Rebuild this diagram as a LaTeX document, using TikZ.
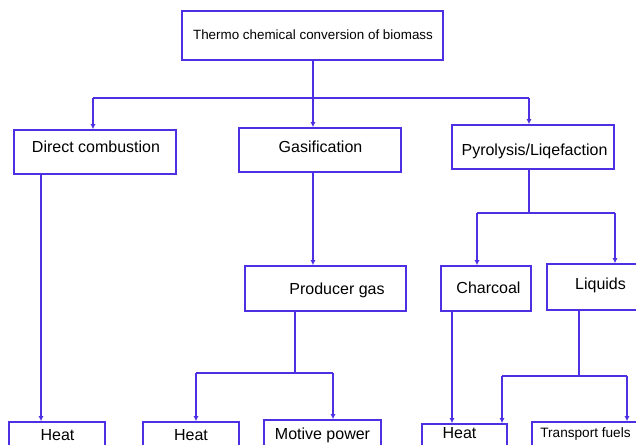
\documentclass[tikz,border=0pt]{standalone}
\usepackage{fontspec}
\setmainfont{Liberation Sans}
\usetikzlibrary{arrows.meta}
\definecolor{flow}{RGB}{78,48,228}
\begin{document}
\begin{tikzpicture}[x=1pt,y=-1pt,
  box/.style={draw=flow,line width=1.6pt,rectangle,inner sep=0pt},
  lbl/.style={font=\fontsize{16}{18}\selectfont,inner sep=0pt,anchor=center},
  conn/.style={draw=flow,line width=1.4pt},
  arr/.style={conn,-{Latex[length=5pt,width=5pt]}}]
\useasboundingbox (0,0) rectangle (636,444);
\clip (0,0) rectangle (636,444);
\fill[white] (0,0) rectangle (636,444);
% boxes
\node[box,minimum width=261pt,minimum height=49pt] (top) at (312.5,35.5) {};
\node[box,minimum width=162pt,minimum height=44pt] (dc) at (95,152) {};
\node[box,minimum width=162pt,minimum height=44pt] (gas) at (320,150) {};
\node[box,minimum width=162pt,minimum height=44pt] (pyr) at (533,147) {};
\node[box,minimum width=161pt,minimum height=45pt] (pg) at (325.5,288.5) {};
\node[box,minimum width=90pt,minimum height=45pt] (char) at (486,288.5) {};
\node[box,minimum width=133pt,minimum height=46pt] (liq) at (613.5,287) {};
\node[box,minimum width=96pt,minimum height=48pt] (h1) at (57,446) {};
\node[box,minimum width=96pt,minimum height=48pt] (h2) at (191,446) {};
\node[box,minimum width=117pt,minimum height=50pt] (mp) at (322.5,445) {};
\node[box,minimum width=85pt,minimum height=48pt] (h3) at (464.5,448) {};
\node[box,minimum width=148pt,minimum height=48pt] (tf) at (606,446) {};
% texts
\node[lbl,font=\fontsize{13.4}{15}\selectfont] (ttop) at (313,35) {Thermo chemical conversion of biomass};
\node[lbl] (tdc) at (96,147) {Direct combustion};
\node[lbl] (tgas) at (320.5,147) {Gasification};
\node[lbl] (tpyr) at (534.5,151) {Pyrolysis/Liqefaction};
\node[lbl] (tpg) at (337,290) {Producer gas};
\node[lbl] (tchar) at (488.5,288) {Charcoal};
\node[lbl] (tliq) at (600.5,285) {Liquids};
\node[lbl] (th1) at (57.5,435.5) {Heat};
\node[lbl] (th2) at (191,435.5) {Heat};
\node[lbl] (tmp) at (322.5,435.5) {Motive power};
\node[lbl] (th3) at (459.5,433.5) {Heat};
\node[lbl,font=\fontsize{13.6}{15}\selectfont] (ttf) at (585.5,433.5) {Transport fuels};
% junction coordinates
\coordinate (j1) at (313,98);
\coordinate (j1l) at (93,98);
\coordinate (j1r) at (529,98);
\coordinate (s1) at (41,0);
\coordinate (s2) at (313,0);
\coordinate (j3) at (295,373);
\coordinate (j3l) at (196,373);
\coordinate (j3r) at (333,373);
\coordinate (j4) at (529,213);
\coordinate (j4l) at (477,213);
\coordinate (j4r) at (615,213);
\coordinate (s5) at (452,0);
\coordinate (j6) at (579,376);
\coordinate (j6l) at (502,376);
\coordinate (j6r) at (627,376);
% connectors
\draw[conn] (j1 |- top.south) -- (j1);
\draw[conn] (j1l) -- (j1r);
\draw[arr] (j1l) -- (j1l |- dc.north);
\draw[arr] (j1) -- (j1 |- gas.north);
\draw[arr] (j1r) -- (j1r |- pyr.north);
\draw[arr] (s1 |- dc.south) -- (s1 |- h1.north);
\draw[arr] (s2 |- gas.south) -- (s2 |- pg.north);
\draw[conn] (j3 |- pg.south) -- (j3);
\draw[conn] (j3l) -- (j3r);
\draw[arr] (j3l) -- (j3l |- h2.north);
\draw[arr] (j3r) -- (j3r |- mp.north);
\draw[conn] (j4 |- pyr.south) -- (j4);
\draw[conn] (j4l) -- (j4r);
\draw[arr] (j4l) -- (j4l |- char.north);
\draw[arr] (j4r) -- (j4r |- liq.north);
\draw[arr] (s5 |- char.south) -- (s5 |- h3.north);
\draw[conn] (j6 |- liq.south) -- (j6);
\draw[conn] (j6l) -- (j6r);
\draw[arr] (j6l) -- (j6l |- h3.north);
\draw[arr] (j6r) -- (j6r |- tf.north);
\end{tikzpicture}
\end{document}
